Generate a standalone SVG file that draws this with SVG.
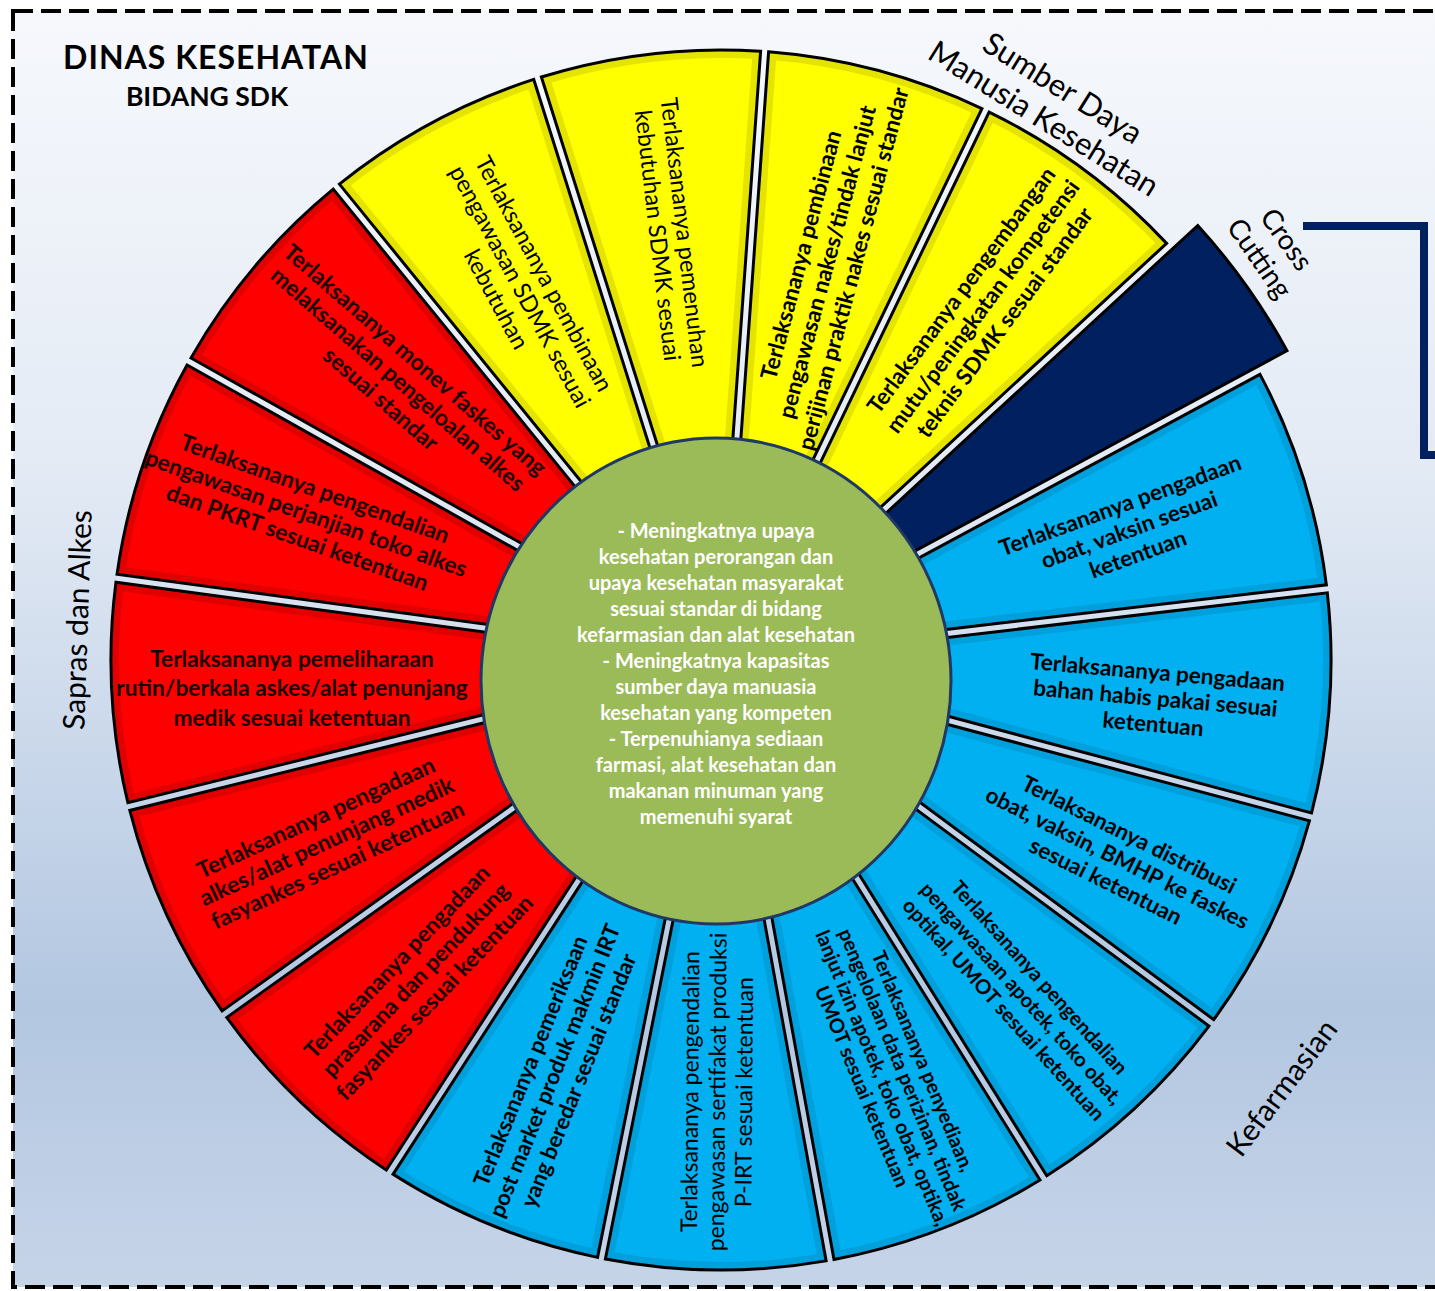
<svg xmlns="http://www.w3.org/2000/svg" width="1435" height="1291" viewBox="0 0 1435 1291">
<defs>
<linearGradient id="bg" x1="0" y1="0" x2="0" y2="1">
<stop offset="0" stop-color="#f6f8fc"/>
<stop offset="0.35" stop-color="#e4ebf5"/>
<stop offset="0.78" stop-color="#b3c7e1"/>
<stop offset="1" stop-color="#c6d4e8"/>
</linearGradient>
<path id="reg" d="M148.09,-24.18 L599.95,-110.37 A610,610 0 0 1 599.95,110.37 L148.09,24.18 Z"/>
<path id="nav" d="M149.32,-14.83 L640.41,-76.87 A645,645 0 0 1 640.41,76.87 L149.32,14.83 Z"/>
<clipPath id="clipReg"><use href="#reg"/></clipPath>
<style>
.edge{fill:none;stroke:#000;stroke-width:3;stroke-linejoin:miter}
.f-y{fill:#ffff00}.rim-y{fill:none;stroke:#e4e400;stroke-width:16}
.f-r{fill:#ff0000}.rim-r{fill:none;stroke:#e00000;stroke-width:16}
.f-b{fill:#00b0f0}.rim-b{fill:none;stroke:#00a0dc;stroke-width:16}
.f-n{fill:#002060}
.tb{font-family:Lato,"Liberation Sans",sans-serif;font-weight:bold;fill:#000;text-anchor:middle}
.tn{font-family:Lato,"Liberation Sans",sans-serif;font-weight:normal;fill:#000;text-anchor:middle}
.tr{fill:#1a0000}
.lab{font-family:Lato,"Liberation Sans",sans-serif;font-weight:normal;fill:#000;text-anchor:middle;font-size:30px}
.ctr{font-family:Lato,"Liberation Sans",sans-serif;font-weight:bold;fill:#fff;text-anchor:middle;font-size:20px}
</style>
</defs>
<rect x="0" y="0" width="1435" height="1291" fill="#fff"/>
<rect x="13" y="11" width="1450" height="1276" fill="url(#bg)" stroke="#000" stroke-width="4" stroke-dasharray="20 8"/>

<g id="title">
<text class="tb" x="216" y="69" style="font-size:32px;letter-spacing:1px">DINAS KESEHATAN</text>
<text class="tb" x="207" y="106" style="font-size:26.5px">BIDANG SDK</text>
</g>

<g id="connectors">
<polyline points="1303,226 1424,226 1424,455 1440,455" fill="none" stroke="#002060" stroke-width="8"/>
</g>

<g id="labels">
<text class="lab" style="font-size:31px" transform="translate(1053 104) rotate(32)"><tspan x="0" y="-8">Sumber Daya</tspan><tspan x="0" dy="36">Manusia Kesehatan</tspan></text>
<text class="lab" style="font-size:28px" transform="translate(1273 249) rotate(55)"><tspan x="0" y="-7">Cross</tspan><tspan x="0" dy="33">Cutting</tspan></text>
<text class="lab" style="font-size:30px" transform="translate(1282 1088) rotate(-53)" y="10">Kefarmasian</text>
<text class="lab" style="font-size:30px" transform="translate(78 620) rotate(-88)" y="10">Sapras dan Alkes</text>
</g>

<g id="node-y1">
<g transform="translate(721 660) rotate(241.7)"><use href="#reg" class="f-y"/><use href="#reg" class="rim-y" clip-path="url(#clipReg)"/><use href="#reg" class="edge"/></g>
<text class="tn" style="font-size:23.5px" transform="translate(721 660) rotate(61.7) translate(-424 0)"><tspan x="0" y="-19">Terlaksananya pembinaan</tspan><tspan x="0" dy="27">pengawasan SDMK sesuai</tspan><tspan x="0" dy="27">kebutuhan</tspan></text>
</g>
<g id="node-y2">
<g transform="translate(721 660) rotate(263.3)"><use href="#reg" class="f-y"/><use href="#reg" class="rim-y" clip-path="url(#clipReg)"/><use href="#reg" class="edge"/></g>
<text class="tn" style="font-size:23.5px" transform="translate(721 660) rotate(83.3) translate(-429 0)"><tspan x="0" y="-5.5">Terlaksananya pemenuhan</tspan><tspan x="0" dy="27">kebutuhan SDMK sesuai</tspan></text>
</g>
<g id="node-y3">
<g transform="translate(721 660) rotate(284.9)"><use href="#reg" class="f-y"/><use href="#reg" class="rim-y" clip-path="url(#clipReg)"/><use href="#reg" class="edge"/></g>
<text class="tb" style="font-size:22.5px" transform="translate(721 660) rotate(-75.1) translate(412 0)"><tspan x="0" y="-19">Terlaksananya pembinaan</tspan><tspan x="0" dy="27">pengawasan nakes/tindak lanjut</tspan><tspan x="0" dy="27">perijinan praktik nakes sesuai standar</tspan></text>
</g>
<g id="node-y4">
<g transform="translate(721 660) rotate(306.5)"><use href="#reg" class="f-y"/><use href="#reg" class="rim-y" clip-path="url(#clipReg)"/><use href="#reg" class="edge"/></g>
<text class="tb" style="font-size:22.5px" transform="translate(721 660) rotate(-53.5) translate(440 0)"><tspan x="0" y="-19">Terlaksananya pengembangan</tspan><tspan x="0" dy="27">mutu/peningkatan kompetensi</tspan><tspan x="0" dy="27">teknis SDMK sesuai standar</tspan></text>
</g>
<g id="node-cross">
<g transform="translate(721 660) rotate(-35.5)"><use href="#nav" class="f-n"/><use href="#nav" class="edge"/></g>
</g>
<g id="node-b5">
<g transform="translate(721 660) rotate(-17.5)"><use href="#reg" class="f-b"/><use href="#reg" class="rim-b" clip-path="url(#clipReg)"/><use href="#reg" class="edge"/></g>
<text class="tb" style="font-size:22.5px" transform="translate(721 660) rotate(-20) translate(428 17)"><tspan x="0" y="-18">Terlaksananya pengadaan</tspan><tspan x="0" dy="26">obat, vaksin sesuai</tspan><tspan x="0" dy="26">ketentuan</tspan></text>
</g>
<g id="node-b6">
<g transform="translate(721 660) rotate(4.1)"><use href="#reg" class="f-b"/><use href="#reg" class="rim-b" clip-path="url(#clipReg)"/><use href="#reg" class="edge"/></g>
<text class="tb" style="font-size:22.5px" transform="translate(721 660) rotate(5) translate(436 0)"><tspan x="0" y="-18">Terlaksananya pengadaan</tspan><tspan x="0" dy="26">bahan habis pakai sesuai</tspan><tspan x="0" dy="26">ketentuan</tspan></text>
</g>
<g id="node-b7">
<g transform="translate(721 660) rotate(25.7)"><use href="#reg" class="f-b"/><use href="#reg" class="rim-b" clip-path="url(#clipReg)"/><use href="#reg" class="edge"/></g>
<text class="tb" style="font-size:22.3px" transform="translate(721 660) rotate(26.5) translate(443 0)"><tspan x="0" y="-18">Terlaksananya distribusi</tspan><tspan x="0" dy="26">obat, vaksin, BMHP ke faskes</tspan><tspan x="0" dy="26">sesuai ketentuan</tspan></text>
</g>
<g id="node-b8">
<g transform="translate(721 660) rotate(47.3)"><use href="#reg" class="f-b"/><use href="#reg" class="rim-b" clip-path="url(#clipReg)"/><use href="#reg" class="edge"/></g>
<text class="tb" style="font-size:20.3px" transform="translate(721 660) rotate(48) translate(449 0)"><tspan x="0" y="-17">Terlaksananya pengendalian</tspan><tspan x="0" dy="24">pengawasaan apotek, toko obat,</tspan><tspan x="0" dy="24">optikal, UMOT sesuai ketentuan</tspan></text>
</g>
<g id="node-b9">
<g transform="translate(721 660) rotate(68.9)"><use href="#reg" class="f-b"/><use href="#reg" class="rim-b" clip-path="url(#clipReg)"/><use href="#reg" class="edge"/></g>
<text class="tb" style="font-size:20px" transform="translate(721 660) rotate(67.5) translate(448 0)"><tspan x="0" y="-26">Terlaksananya penyediaan,</tspan><tspan x="0" dy="22">pengelolaan data perizinan, tindak</tspan><tspan x="0" dy="22">lanjut izin apotek, toko obat, optika,</tspan><tspan x="0" dy="22">UMOT sesuai ketentuan</tspan></text>
</g>
<g id="node-b10">
<g transform="translate(721 660) rotate(90.5)"><use href="#reg" class="f-b"/><use href="#reg" class="rim-b" clip-path="url(#clipReg)"/><use href="#reg" class="edge"/></g>
<text class="tn" style="font-size:23px" transform="translate(721 660) rotate(-89.5) translate(-432 0)"><tspan x="0" y="-19">Terlaksananya pengendalian</tspan><tspan x="0" dy="27">pengawasan sertifakat produksi</tspan><tspan x="0" dy="27">P-IRT sesuai ketentuan</tspan></text>
</g>
<g id="node-b11">
<g transform="translate(721 660) rotate(112.1)"><use href="#reg" class="f-b"/><use href="#reg" class="rim-b" clip-path="url(#clipReg)"/><use href="#reg" class="edge"/></g>
<text class="tb" style="font-size:22px" transform="translate(721 660) rotate(-67.9) translate(-443 0)"><tspan x="0" y="-18">Terlaksananya pemeriksaan</tspan><tspan x="0" dy="26">post market produk makmin IRT</tspan><tspan x="0" dy="26">yang beredar sesuai standar</tspan></text>
</g>
<g id="node-r12">
<g transform="translate(721 660) rotate(133.7)"><use href="#reg" class="f-r"/><use href="#reg" class="rim-r" clip-path="url(#clipReg)"/><use href="#reg" class="edge"/></g>
<text class="tb tr" style="font-size:22.6px" transform="translate(721 660) rotate(-46.3) translate(-442 0)"><tspan x="0" y="-18">Terlaksananya pengadaan</tspan><tspan x="0" dy="26">prasarana dan pendukung</tspan><tspan x="0" dy="26">fasyankes sesuai ketentuan</tspan></text>
</g>
<g id="node-r13">
<g transform="translate(721 660) rotate(155.3)"><use href="#reg" class="f-r"/><use href="#reg" class="rim-r" clip-path="url(#clipReg)"/><use href="#reg" class="edge"/></g>
<text class="tb tr" style="font-size:22.8px" transform="translate(721 660) rotate(-24.7) translate(-434 0)"><tspan x="0" y="-18">Terlaksananya pengadaan</tspan><tspan x="0" dy="26">alkes/alat penunjang medik</tspan><tspan x="0" dy="26">fasyankes sesuai ketentuan</tspan></text>
</g>
<g id="node-r14">
<g transform="translate(721 660) rotate(176.9)"><use href="#reg" class="f-r"/><use href="#reg" class="rim-r" clip-path="url(#clipReg)"/><use href="#reg" class="edge"/></g>
<text class="tb tr" style="font-size:22.7px" transform="translate(292 688)"><tspan x="0" y="-21.5">Terlaksananya pemeliharaan</tspan><tspan x="0" dy="29.5">rutin/berkala askes/alat penunjang</tspan><tspan x="0" dy="29.5">medik sesuai ketentuan</tspan></text>
</g>
<g id="node-r15">
<g transform="translate(721 660) rotate(198.5)"><use href="#reg" class="f-r"/><use href="#reg" class="rim-r" clip-path="url(#clipReg)"/><use href="#reg" class="edge"/></g>
<text class="tb tr" style="font-size:22.8px" transform="translate(721 660) rotate(19.5) translate(-440 0)"><tspan x="0" y="-18">Terlaksananya pengendalian</tspan><tspan x="0" dy="26">pengawasan perjanjian toko alkes</tspan><tspan x="0" dy="26">dan PKRT sesuai ketentuan</tspan></text>
</g>
<g id="node-r16">
<g transform="translate(721 660) rotate(220.1)"><use href="#reg" class="f-r"/><use href="#reg" class="rim-r" clip-path="url(#clipReg)"/><use href="#reg" class="edge"/></g>
<text class="tb tr" style="font-size:22.8px" transform="translate(721 660) rotate(41) translate(-428 0)"><tspan x="0" y="-18">Terlaksananya monev faskes yang</tspan><tspan x="0" dy="26">melaksanakan pengeloalan alkes</tspan><tspan x="0" dy="26">sesuai standar</tspan></text>
</g>

<g id="node-center">
<ellipse cx="716" cy="681" rx="235" ry="243" fill="#9bbb59" stroke="#1f3864" stroke-width="3"/>
<text class="ctr"><tspan x="716" y="538">- Meningkatnya upaya</tspan><tspan x="716" dy="26">kesehatan perorangan dan</tspan><tspan x="716" dy="26">upaya kesehatan masyarakat</tspan><tspan x="716" dy="26">sesuai standar di bidang</tspan><tspan x="716" dy="26">kefarmasian dan alat kesehatan</tspan><tspan x="716" dy="26">- Meningkatnya kapasitas</tspan><tspan x="716" dy="26">sumber daya manuasia</tspan><tspan x="716" dy="26">kesehatan yang kompeten</tspan><tspan x="716" dy="26">- Terpenuhianya sediaan</tspan><tspan x="716" dy="26">farmasi, alat kesehatan dan</tspan><tspan x="716" dy="26">makanan minuman yang</tspan><tspan x="716" dy="26">memenuhi syarat</tspan></text>
</g>
</svg>
